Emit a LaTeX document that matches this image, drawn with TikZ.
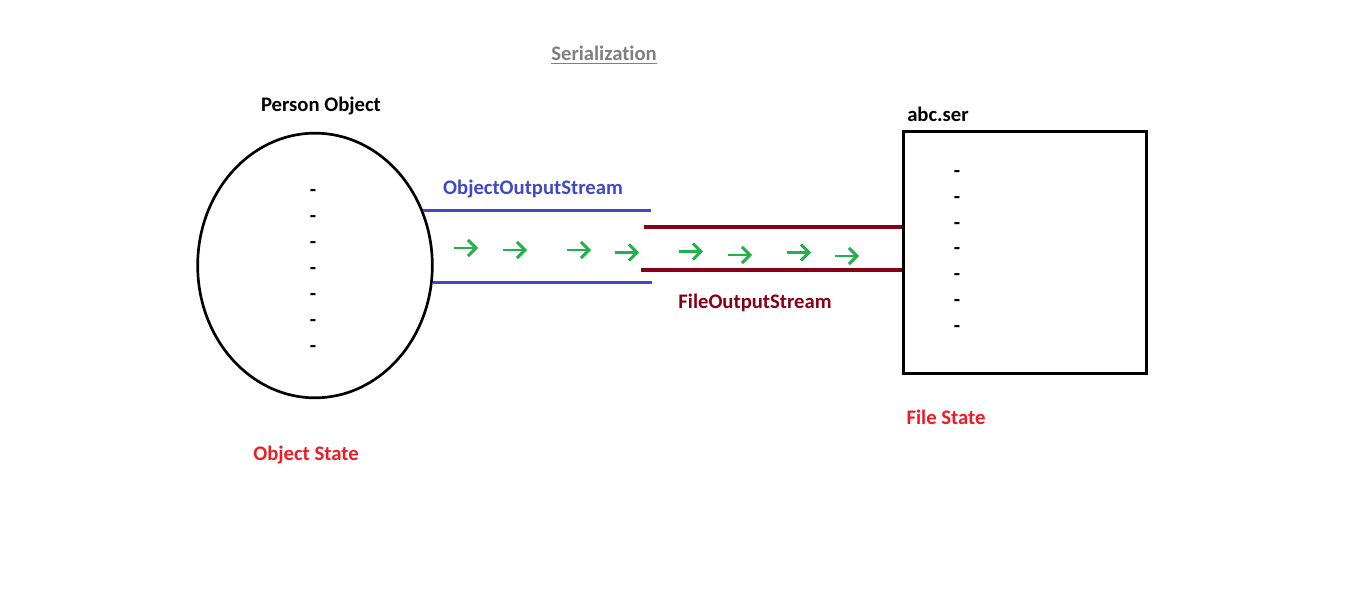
\documentclass[tikz,border=0pt]{standalone}
\usepackage{fontspec}
\setmainfont[Ligatures=NoCommon]{Carlito}
\usetikzlibrary{arrows.meta,shapes.geometric}
\definecolor{cblue}{HTML}{3F48CC}
\definecolor{cdred}{HTML}{880015}
\definecolor{cgreen}{HTML}{22B14C}
\definecolor{cred}{HTML}{ED1C24}
\definecolor{cgray}{HTML}{7F7F7F}
\begin{document}
\begin{tikzpicture}[x=0.75pt,y=-0.75pt,
  lbl/.style={font=\bfseries\fontsize{15.5}{18}\selectfont, inner sep=0pt},
  dashmark/.style={font=\bfseries\fontsize{15.5}{18}\selectfont, inner sep=0pt},
  bluepipe/.style={draw=cblue, line width=2.3pt},
  redpipe/.style={draw=cdred, line width=2.3pt},
  flow/.style={draw=cgreen, line width=2.2pt, -{Straight Barb[length=6pt,width=12pt]}}]
\useasboundingbox[fill=white] (0,0) rectangle (1360,613);

% title
\node[lbl, text=cgray] (title) at (604,55) {\underline{Serialization}};

% object
\node[draw, line width=2pt, ellipse, minimum width=176pt, minimum height=198.5pt, inner sep=0pt] (obj) at (315,265.5) {};
\node[lbl] (objtitle) at (321,106) {Person Object};
\node[lbl, text=cred] (objstate) at (306,455) {Object State};
\foreach \i/\y in {1/193,2/219,3/245,4/271,5/297,6/323,7/349}
  \node[dashmark] (od\i) at (313,\y) {-};

% file
\node[draw, line width=2.25pt, rectangle, minimum width=182pt, minimum height=181.5pt, inner sep=0pt] (file) at (1025.3,252.7) {};
\node[lbl] (filetitle) at (938,114) {abc.ser};
\node[lbl, text=cred] (filestate) at (946,417) {File State};
\foreach \i/\y in {1/174.5,2/200.5,3/226.5,4/251.5,5/277.5,6/303.5,7/329.5}
  \node[dashmark] (fd\i) at (957,\y) {-};

% ObjectOutputStream pipe
\coordinate (b1) at (651,210);
\coordinate (b2) at (652,283);
\draw[bluepipe] (obj.27.5) -- (obj.27.5 -| b1);
\draw[bluepipe] (obj.-8.5) -- (obj.-8.5 -| b2);
\node[lbl, text=cblue] (oos) at (533,189) {ObjectOutputStream};

% FileOutputStream pipe
\coordinate (r1) at (644,227);
\coordinate (r2) at (641,270);
\draw[redpipe] (r1) -- (r1 -| file.west);
\draw[redpipe] (r2) -- (r2 -| file.west);
\node[lbl, text=cdred] (fos) at (755,303) {FileOutputStream};

% flow arrows
\foreach \x/\y in {454/248,503/250,567/250,615/252.5,679/251.5,728/255,787/252.5,835/256}
  \draw[flow] (\x,\y) -- ++(24,0);
\end{tikzpicture}
\end{document}
